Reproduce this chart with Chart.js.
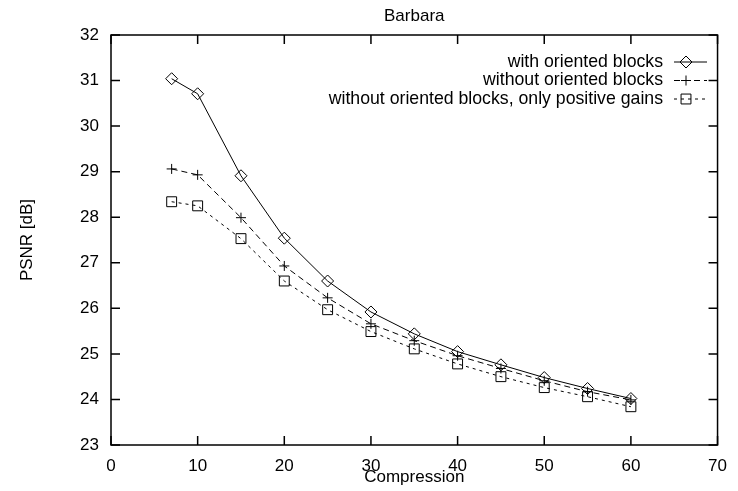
<!DOCTYPE html>
<html>
<head>
<meta charset="utf-8">
<script src="https://cdn.jsdelivr.net/npm/chart.js@4/dist/chart.umd.min.js"></script>
<style>
  html, body { margin: 0; padding: 0; background: #fff; }
  #wrap { width: 738px; height: 491px; }
</style>
</head>
<body>
<div id="wrap"><canvas id="chart" width="738" height="491"></canvas></div>
<script>
const compression = [7, 10, 15, 20, 25, 30, 35, 40, 45, 50, 55, 60];
const withOriented = [31.04, 30.71, 28.91, 27.54, 26.6, 25.92, 25.44, 25.05, 24.76, 24.48, 24.24, 24.02];
const withoutOriented = [29.06, 28.93, 27.99, 26.93, 26.23, 25.66, 25.29, 24.96, 24.68, 24.41, 24.17, 23.99];
const positiveGains = [28.34, 28.25, 27.53, 26.6, 25.97, 25.49, 25.11, 24.78, 24.5, 24.26, 24.06, 23.84];
const seriesLabels = ['with oriented blocks', 'without oriented blocks', 'without oriented blocks, only positive gains'];
const xTicks = [0, 10, 20, 30, 40, 50, 60, 70];
const yTicks = [23, 24, 25, 26, 27, 28, 29, 30, 31, 32];

const font = 'Liberation Sans, Arial, Helvetica, sans-serif';
const points = (ys) => compression.map((x, i) => ({ x, y: ys[i] }));

const series = [
  { label: seriesLabels[0], data: points(withOriented), style: 'rectRot', radius: 6, dash: [] },
  { label: seriesLabels[1], data: points(withoutOriented), style: 'cross', radius: 5, dash: [6, 4] },
  { label: seriesLabels[2], data: points(positiveGains), style: 'rect', radius: 7, dash: [3, 4] }
];

// frame, inward ticks on all four sides, title and gnuplot-style legend
const framePlugin = {
  id: 'frame',
  afterDraw(chart) {
    const { ctx, chartArea: a, scales } = chart;
    ctx.save();
    ctx.strokeStyle = '#000';
    ctx.lineWidth = 1.5;
    ctx.strokeRect(a.left, a.top, a.right - a.left, a.bottom - a.top);
    const len = 9;
    ctx.beginPath();
    xTicks.forEach((v) => {
      const px = scales.x.getPixelForValue(v);
      ctx.moveTo(px, a.bottom); ctx.lineTo(px, a.bottom - len);
      ctx.moveTo(px, a.top); ctx.lineTo(px, a.top + len);
    });
    yTicks.forEach((v) => {
      const py = scales.y.getPixelForValue(v);
      ctx.moveTo(a.left, py); ctx.lineTo(a.left + len, py);
      ctx.moveTo(a.right, py); ctx.lineTo(a.right - len, py);
    });
    ctx.stroke();

    ctx.fillStyle = '#000';
    ctx.font = `17px ${font}`;
    ctx.textAlign = 'center';
    ctx.textBaseline = 'middle';
    ctx.fillText('Barbara', (a.left + a.right) / 2, 16);

    // legend
    ctx.font = `17.7px ${font}`;
    ctx.textAlign = 'right';
    const rowY = [62, 80.5, 99];
    chart.data.datasets.forEach((ds, i) => {
      const y = rowY[i];
      ctx.fillStyle = '#000';
      ctx.fillText(ds.label, 663, y);
      ctx.lineWidth = 1;
      ctx.setLineDash(ds.borderDash || []);
      ctx.beginPath();
      ctx.moveTo(674, y); ctx.lineTo(707, y);
      ctx.stroke();
      ctx.setLineDash([]);
      ctx.fillStyle = 'rgba(0,0,0,0)';
      Chart.helpers.drawPoint(ctx, { pointStyle: ds.pointStyle, radius: ds.pointRadius, rotation: 0, borderWidth: 1 }, 686, y);
    });
    ctx.restore();
  }
};

const axisFont = { family: font, size: 17 };

new Chart(document.getElementById('chart'), {
  type: 'line',
  data: {
    datasets: series.map((s) => ({
      label: s.label,
      data: s.data,
      borderColor: '#000',
      borderWidth: 1,
      borderDash: s.dash,
      backgroundColor: 'rgba(0,0,0,0)',
      pointStyle: s.style,
      pointRadius: s.radius,
      pointBorderColor: '#000',
      pointBackgroundColor: 'rgba(0,0,0,0)',
      pointBorderWidth: 1,
      tension: 0,
      fill: false
    }))
  },
  options: {
    responsive: false,
    animation: false,
    layout: { padding: { left: 0, right: 9, top: 35, bottom: 0 } },
    plugins: { legend: { display: false }, title: { display: false }, tooltip: { enabled: false } },
    scales: {
      x: {
        type: 'linear', min: 0, max: 70,
        afterFit: (scale) => { scale.height = 46; },
        grid: { display: false, drawTicks: false },
        border: { display: false },
        ticks: { stepSize: 10, padding: 11, color: '#000', font: axisFont },
        title: { display: true, text: 'Compression', color: '#000', font: axisFont, padding: { top: 0, bottom: 3 } }
      },
      y: {
        type: 'linear', min: 23, max: 32,
        afterFit: (scale) => { scale.width = 111; },
        grid: { display: false, drawTicks: false },
        border: { display: false },
        ticks: { stepSize: 1, padding: 12, color: '#000', font: axisFont },
        title: { display: true, text: 'PSNR [dB]', color: '#000', font: axisFont, padding: { top: 17, bottom: 0 } }
      }
    }
  },
  plugins: [framePlugin]
});
</script>
</body>
</html>
